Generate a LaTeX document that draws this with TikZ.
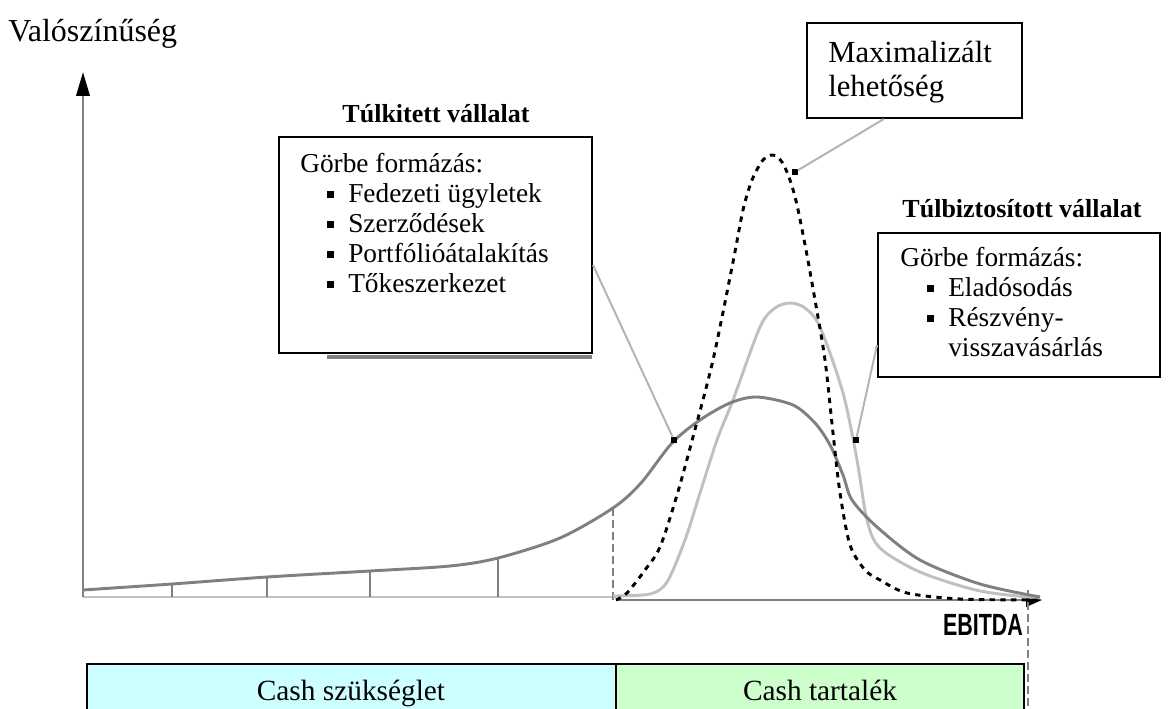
\documentclass[tikz,border=0pt]{standalone}
\usepackage{fontspec}
\setmainfont{Liberation Serif}
\newfontfamily\ebitdafont{Liberation Sans}
\usetikzlibrary{arrows.meta}
\usetikzlibrary{positioning}
\definecolor{curvedark}{HTML}{808080}
\definecolor{curvelight}{HTML}{C0C0C0}
\definecolor{leadgray}{HTML}{B4B4B4}
\definecolor{needcyan}{HTML}{CCFFFF}
\definecolor{reservegreen}{HTML}{CCFFCC}
\def\px{0.75pt}
\def\itm#1{\hspace*{20.25pt}\rule[3.75pt]{5.25pt}{5.25pt}\hspace{10.5pt}#1}

\begin{document}
\begin{tikzpicture}[x=0.75pt,y=-0.75pt,
		box/.style={draw=black,line width=1.5pt,fill=white,inner sep=0pt},
		title/.style={font=\bfseries\fontsize{19.5}{22}\selectfont},
		boxtext/.style={align=left,inner sep=0pt,font=\fontsize{20.5}{22.5}\selectfont},
		bartext/.style={anchor=base,inner sep=0pt,font=\fontsize{22}{24}\selectfont},
		lead/.style={draw=leadgray,line width=1.5pt},
		tip/.style={fill=black,inner sep=0pt,minimum size=4pt},
		axis/.style={draw=curvedark,line width=2pt},
		guide/.style={draw=curvedark,line width=1.2pt,dash pattern=on 6pt off 3pt}]
		
		\useasboundingbox (0,0) rectangle (1171,709);
		\clip (0,0) rectangle (1171,709);
		
		\coordinate (O) at (83,597);
		\coordinate (ytop) at (83,72);
		\coordinate (xstart) at (616,600);
		\coordinate (xend) at (1042,600);
		
		\filldraw[fill=needcyan,draw=black,line width=1.5pt] (87,664) rectangle (616,730);
		\filldraw[fill=reservegreen,draw=black,line width=1.5pt] (616,664) rectangle (1024,730);
		\node[bartext] (need) at (351,700) {Cash szükséglet};
		\node[bartext] (reserve) at (820,700) {Cash tartalék};
		
		\draw[curvelight,line width=2pt] (O) -- (616,597);
		\draw[axis,-{Triangle[length=18pt,width=10pt,color=black]}] (O) -- (ytop);
		\draw[axis,-{Triangle[length=12pt,width=10pt,color=black]}] (xstart) -- (xend);
		\node[anchor=base west,inner sep=0pt,font=\fontsize{24}{26}\selectfont] (prob) at (8,42) {Valószínűség};
		\node[anchor=base,inner sep=0pt] (ebitda) at (983,635)
			{\scalebox{0.7}[1]{\ebitdafont\bfseries\fontsize{23}{25}\selectfont EBITDA}};
		
		\draw[guide] (613,508) -- (613,600);
		\draw[guide] (1028,590) -- (1028,709);
		\foreach \tx/\ty in {172/584,267/577,370/571,498/558}
			\draw[curvedark,line width=1.5pt] (\tx,\ty) -- (\tx,597);
		
		\draw[curvelight,line width=2.2pt] plot[smooth] coordinates {(613,596) (650,594) (667,582) (685,540) (700,493) (717,440) (733,400) (760,327) (775,308) (790,303) (805,308) (820,327) (843,393) (857,460) (867,520) (880,548) (920,572) (980,591) (1040,598)};
		\draw[curvedark,line width=2.2pt] plot[smooth] coordinates {(83,590) (172,584) (267,577) (370,571) (450,566) (498,558) (560,538) (613,508) (641,483) (672,443) (700,420) (730,403) (757,397) (793,405) (815,423) (830,445) (843,475) (852,500) (877,527) (920,560) (980,584) (1040,597)};
		\draw[black,line width=2.2pt,dash pattern=on 4pt off 4pt] plot[smooth] coordinates {(616,600) (627,593) (645,570) (660,547) (677,495) (693,437) (713,360) (733,262) (743,210) (752,180) (763,160) (773,155) (782,162) (790,180) (797,205) (806,250) (815,300) (825,360) (833,433) (840,493) (850,545) (865,570) (880,580) (907,593) (960,599) (1040,600)};
		
		\node[box,minimum width=313*\px,minimum height=216*\px] (over) at (435.5,245) {};
		\draw[curvedark,line width=2.5pt] (327,357) -- (592,357);
		\node[title,anchor=base] (overtitle) at (436,123) {Túlkitett vállalat};
		\node[boxtext,anchor=base west] (overtext) at (300,293)
			{Görbe formázás:\\ \itm{Fedezeti ügyletek}\\ \itm{Szerződések}\\ \itm{Portfólióátalakítás}\\ \itm{Tőkeszerkezet}};
		
		\node[box,minimum width=282*\px,minimum height=144*\px] (under) at (1019,305) {};
		\node[title,anchor=base] (undertitle) at (1022,218) {Túlbiztosított vállalat};
		\node[boxtext,anchor=base west] (undertext) at (900,357)
			{Görbe formázás:\\ \itm{Eladósodás}\\ \itm{Részvény-}\\ \hspace*{36pt}visszavásárlás};
		
		\node[box,minimum width=215*\px,minimum height=95*\px] (max) at (914.5,70.5) {};
		\node[align=left,anchor=base west,inner sep=0pt,font=\fontsize{23}{25.5}\selectfont] (maxtext) at (828,97)
			{Maximalizált\\lehetőség};
		
		\node[tip] (dot1) at (674,440) {};
		\node[tip] (dot2) at (856,440) {};
		\node[tip] (dot3) at (795,172) {};
		\draw[lead] ([yshift=-15pt]over.east) -- (dot1);
		\draw[lead] ([yshift=-30pt]under.west) -- (dot2);
		\draw[lead] ([xshift=-23pt]max.south) -- (dot3);
		\end{tikzpicture}
\end{document}
